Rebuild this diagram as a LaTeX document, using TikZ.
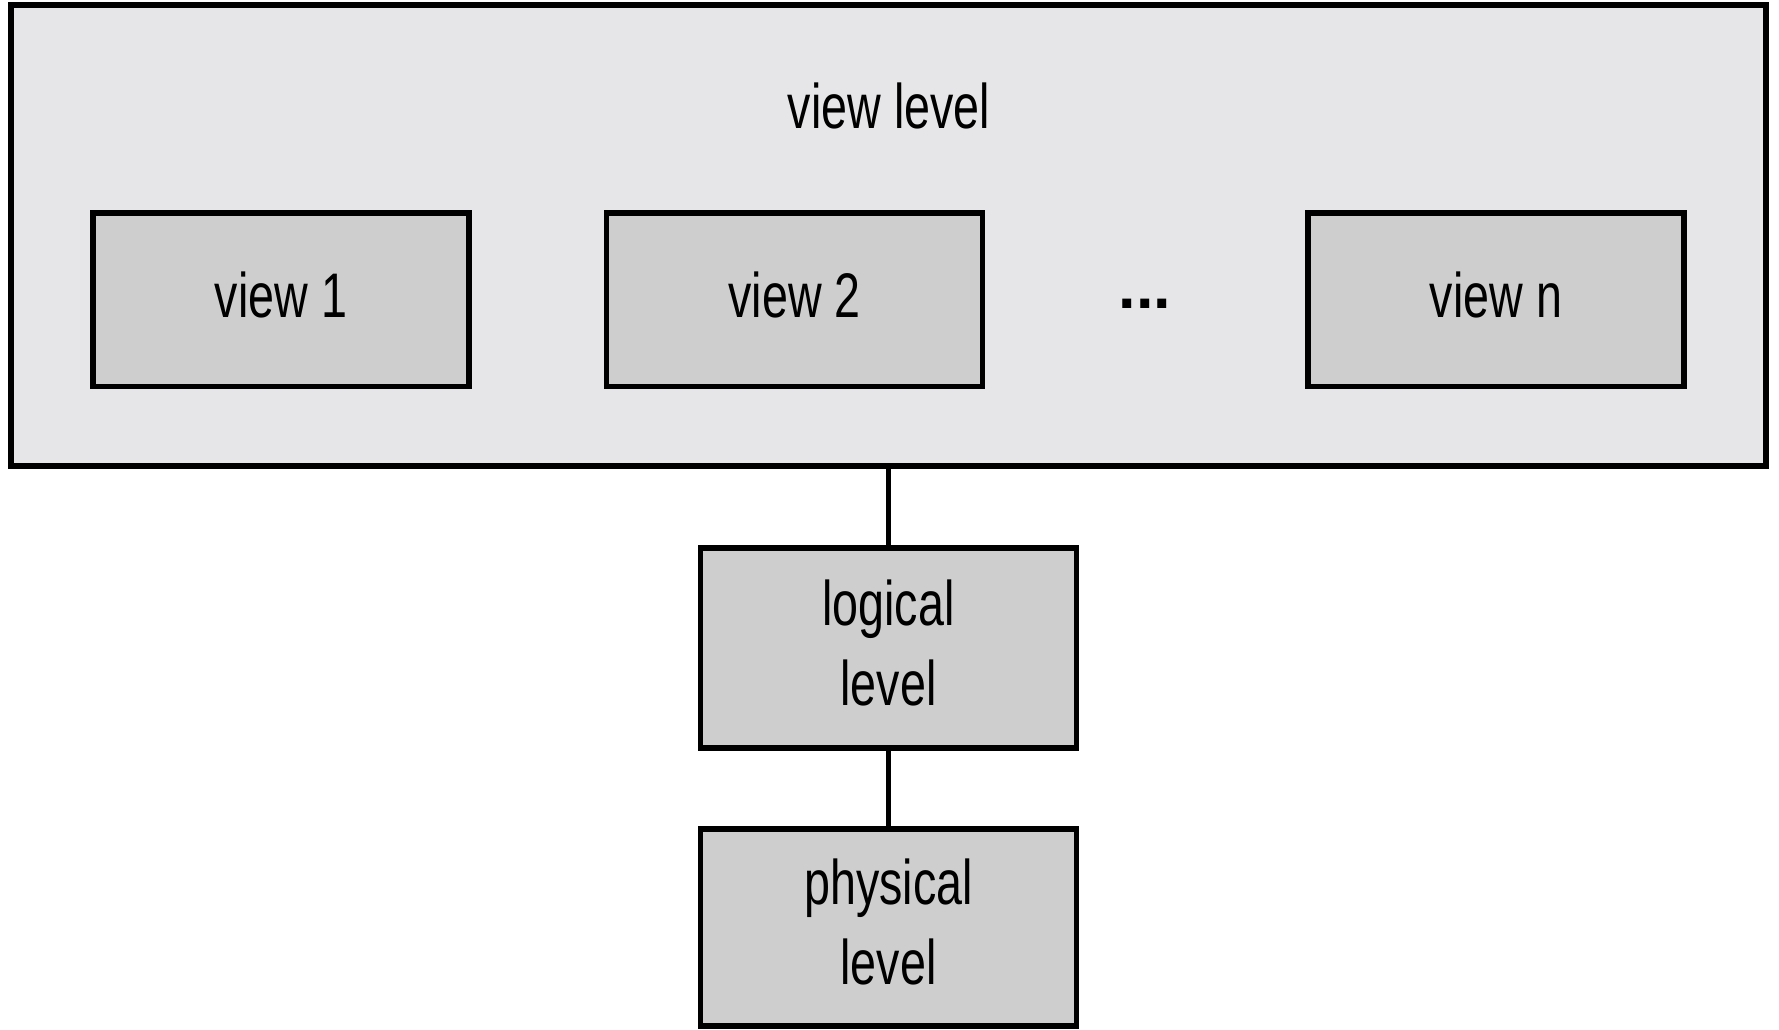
\documentclass[tikz,border=0pt]{standalone}
\usepackage{fontspec}
\setmainfont[FakeStretch=0.74]{Liberation Sans}
\newfontfamily\dotsfont{Liberation Sans}
\definecolor{outerfill}{RGB}{230,229,231}
\definecolor{boxfill}{RGB}{206,206,206}
\begin{document}
\begin{tikzpicture}[x=0.5pt,y=-0.5pt,
  lbl/.style={font=\fontsize{31.5}{40}\selectfont},
  levelbox/.style={draw=black,fill=boxfill,line width=2.9pt,inner sep=0pt,
    minimum width=188pt,align=center,text depth=5.5pt,lbl},
  link/.style={draw=black,line width=2.1pt}]
\useasboundingbox (0,0) rectangle (1779,1029);
% outer view-level container
\node[draw=black,fill=outerfill,line width=3pt,inner sep=0pt,
  minimum width=877.75pt,minimum height=230.75pt] (viewlevel) at (888.25,235.25) {};
\node[lbl,anchor=base] (viewtitle) at (889,128) {view level};
% individual views
\node[levelbox,minimum height=86.75pt] (v1) at (281,299.75) {view 1};
\node[levelbox,minimum height=86.75pt] (v2) at (794.5,299.75) {view 2};
\node[levelbox,minimum height=86.75pt] (vn) at (1496,299.75) {view n};
\node[font=\fontsize{31.5}{40}\dotsfont\bfseries,inner sep=0pt] (dots) at (1145,304) {...};
% lower levels
\node[levelbox,minimum height=100pt] (logical) at (888.5,648) {logical\\level};
\node[levelbox,minimum height=98.5pt] (physical) at (888.5,927.5) {physical\\level};
% connectors
\draw[link] (viewlevel.south -| logical.north) -- (logical.north);
\draw[link] (logical.south) -- (physical.north);
\end{tikzpicture}
\end{document}
